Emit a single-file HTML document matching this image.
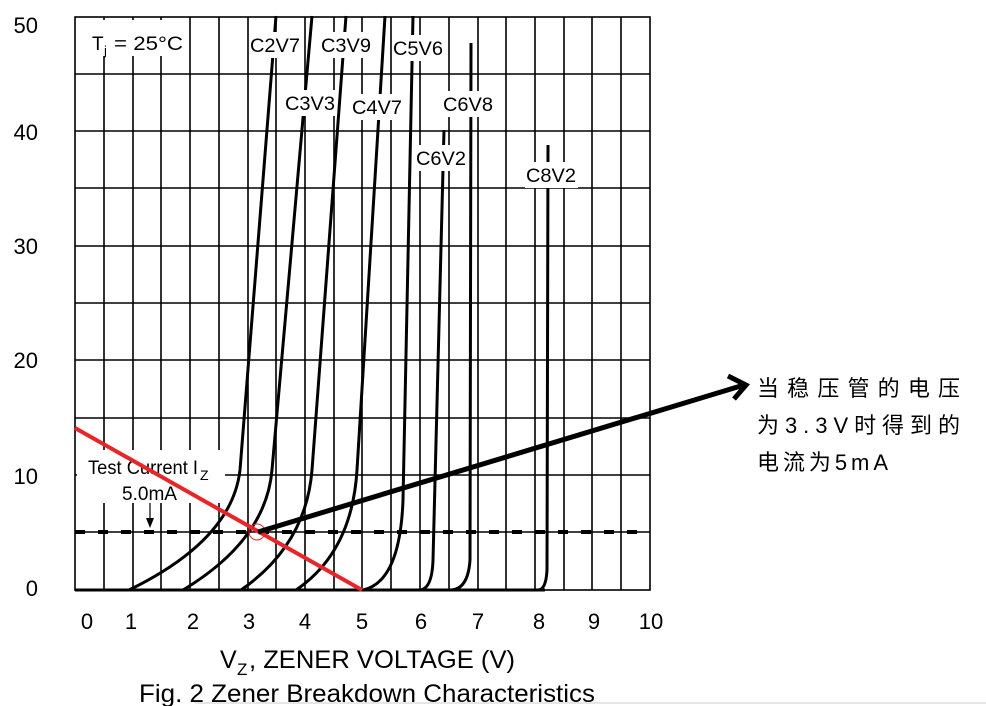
<!DOCTYPE html>
<html><head><meta charset="utf-8"><style>
html,body{margin:0;padding:0;background:#fff;width:986px;height:706px;overflow:hidden}
svg text{font-family:"Liberation Sans",Arial,sans-serif}
</style></head><body>
<svg width="986" height="706" viewBox="0 0 986 706" xmlns="http://www.w3.org/2000/svg">
<g stroke="#000" stroke-width="1.6" fill="none">
<rect x="75" y="17" width="575" height="573"/>
<path d="M104 17V590M133 17V590M161 17V590M190 17V590M219 17V590M248 17V590M276 17V590M305 17V590M334 17V590M362 17V590M391 17V590M420 17V590M449 17V590M478 17V590M506 17V590M535 17V590M564 17V590M592 17V590M621 17V590"/>
<path d="M75 74H650M75 131H650M75 188H650M75 246H650M75 303H650M75 360H650M75 418H650M75 475H650M75 532H650"/>
</g>
<g stroke="#000" stroke-width="3" fill="none">
<path d="M75 590H545"/>
<path d="M129 590Q232 540 240 470L276 16"/>
<path d="M183 590Q266 540 272 470L312 16"/>
<path d="M241 590Q306 545 312 470L346 16"/>
<path d="M296 590Q352 552 357 470L385 16"/>
<path d="M363 590Q400 582 403 500L413 16"/>
<path d="M419 590Q432 590 433 560L444 130"/>
<path d="M450 590Q468 590 470 560L471 43"/>
<path d="M538 590Q546 590 547 570L548 145"/>
</g>
<!-- white label boxes -->
<g fill="#fff">
<rect x="82" y="20" width="104" height="36"/>
<rect x="249" y="32" width="53" height="26"/>
<rect x="284" y="90" width="53" height="26"/>
<rect x="320" y="32" width="53" height="26"/>
<rect x="351" y="94" width="53" height="26"/>
<rect x="392" y="35" width="53" height="26"/>
<rect x="442" y="91" width="53" height="26"/>
<rect x="415" y="145" width="53" height="26"/>
<rect x="525" y="162" width="53" height="26"/>
<rect x="77" y="450" width="148" height="53"/>
</g>
<path d="M75 532H650" stroke="#000" stroke-width="4" stroke-dasharray="10 13"/>
<path d="M150 503V522" stroke="#000" stroke-width="1.2"/>
<path d="M146 518L150 528L154 518Z" fill="#000"/>
<g font-size="19" fill="#000">
<text x="92" y="50">T</text><text x="104" y="55" font-size="13">j</text><text x="114" y="50" textLength="69" lengthAdjust="spacingAndGlyphs">= 25°C</text>
<text x="250" y="52" textLength="50" lengthAdjust="spacingAndGlyphs">C2V7</text>
<text x="285" y="110" textLength="50" lengthAdjust="spacingAndGlyphs">C3V3</text>
<text x="321" y="52" textLength="50" lengthAdjust="spacingAndGlyphs">C3V9</text>
<text x="352" y="114" textLength="50" lengthAdjust="spacingAndGlyphs">C4V7</text>
<text x="393" y="55" textLength="50" lengthAdjust="spacingAndGlyphs">C5V6</text>
<text x="443" y="111" textLength="50" lengthAdjust="spacingAndGlyphs">C6V8</text>
<text x="416" y="165" textLength="50" lengthAdjust="spacingAndGlyphs">C6V2</text>
<text x="526" y="182" textLength="50" lengthAdjust="spacingAndGlyphs">C8V2</text>
<text x="88" y="474" textLength="110" lengthAdjust="spacingAndGlyphs">Test Current I</text><text x="200" y="480" font-size="14">Z</text>
<text x="122" y="500" textLength="55" lengthAdjust="spacingAndGlyphs">5.0mA</text>
</g>
<g font-size="22" fill="#000">
<text x="38" y="33" text-anchor="end">50</text>
<text x="38" y="140" text-anchor="end">40</text>
<text x="38" y="254" text-anchor="end">30</text>
<text x="38" y="368" text-anchor="end">20</text>
<text x="38" y="484" text-anchor="end">10</text>
<text x="38" y="596" text-anchor="end">0</text>
<g text-anchor="middle">
<text x="87" y="629">0</text><text x="131" y="629">1</text><text x="193" y="629">2</text><text x="249" y="629">3</text><text x="305" y="629">4</text><text x="362" y="629">5</text><text x="421" y="629">6</text><text x="478" y="629">7</text><text x="539" y="629">8</text><text x="594" y="629">9</text><text x="651" y="629">10</text>
</g>
<text x="220" y="668" font-size="25">V</text><text x="237" y="675" font-size="17">Z</text><text x="249" y="668" font-size="25" textLength="266" lengthAdjust="spacingAndGlyphs">, ZENER VOLTAGE (V)</text>
<text x="139" y="702" font-size="25" textLength="456" lengthAdjust="spacingAndGlyphs">Fig. 2  Zener Breakdown Characteristics</text>
</g>
<path d="M195 703H986" stroke="#ccc" stroke-width="1"/>
<path d="M75 428L362 590" stroke="#e8262a" stroke-width="4"/>
<circle cx="257" cy="532" r="8" stroke="#e8262a" stroke-width="1" fill="none"/>
<path d="M258 532L744 385" stroke="#000" stroke-width="5"/>
<path d="M728 376L746 385L734 399" stroke="#000" stroke-width="5" fill="none" stroke-linejoin="miter"/>
<g font-size="22" fill="#000" style="font-family:'WenQuanYi Zen Hei','Noto Sans CJK SC',sans-serif">
<text x="757" y="396" textLength="203" lengthAdjust="spacing">当稳压管的电压</text>
<text x="757" y="433" textLength="203" lengthAdjust="spacing">为3.3V时得到的</text>
<text x="757" y="470" textLength="131" lengthAdjust="spacing">电流为5mA</text>
</g>
</svg>
</body></html>
